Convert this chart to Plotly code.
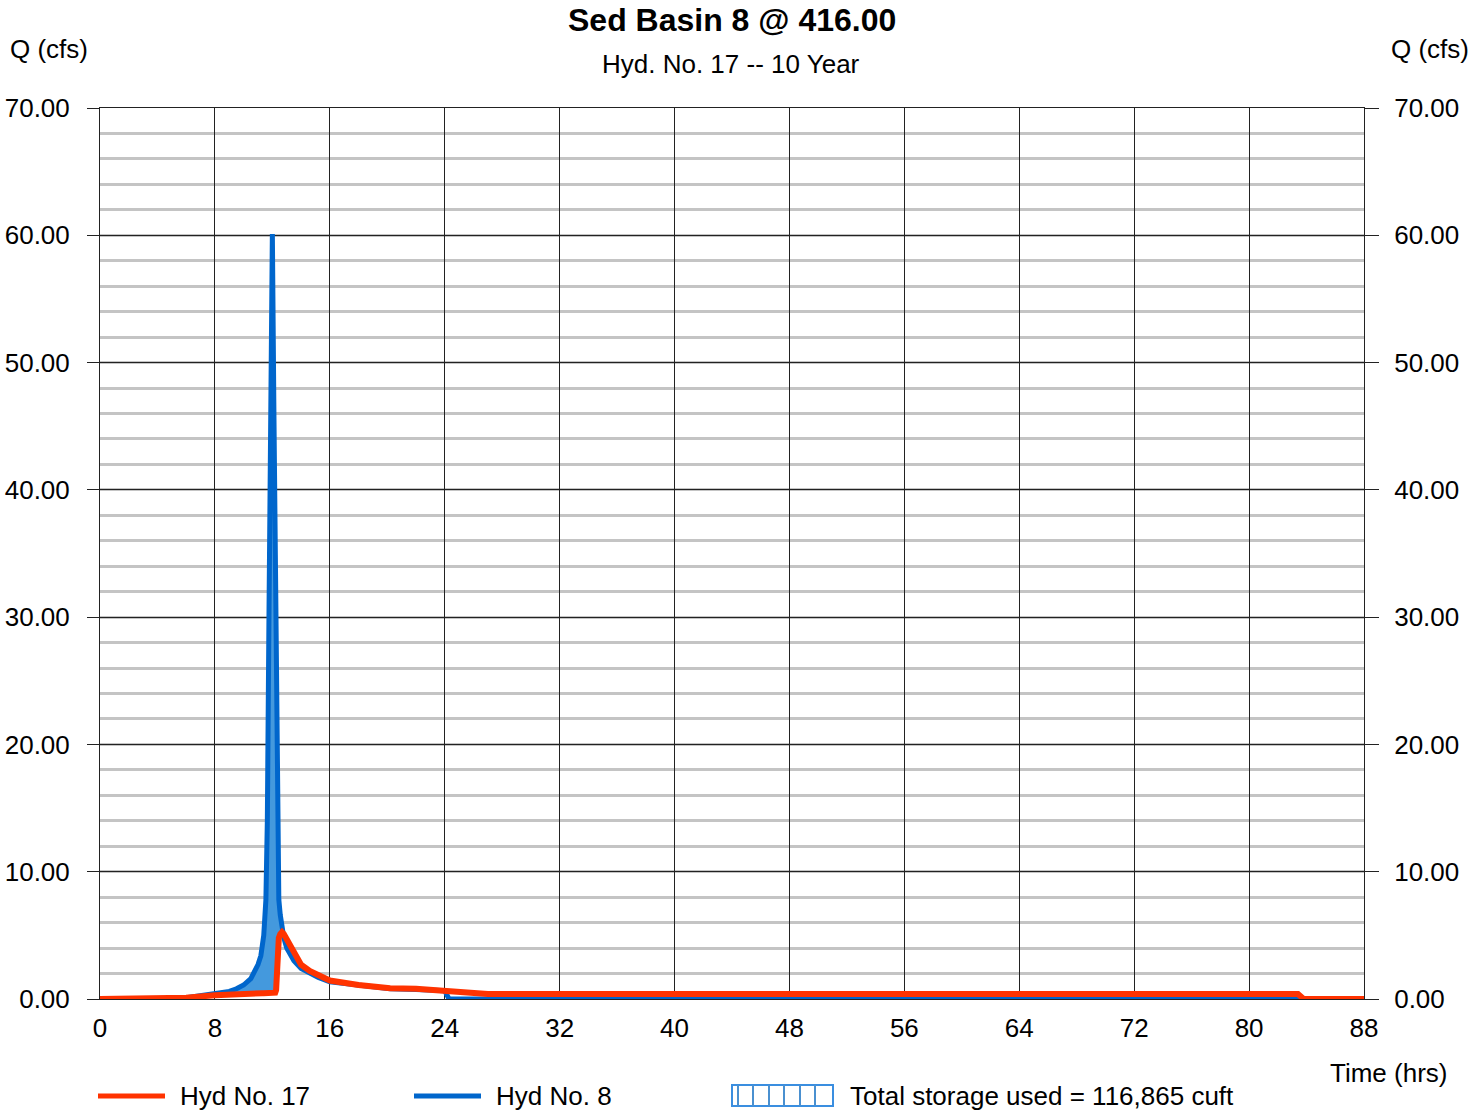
import plotly.graph_objects as go

# ---- data ----
time_hrs = [0, 4.5, 6, 8, 9.0, 9.5, 10.0, 10.5, 10.7, 11.0, 11.2, 11.3, 11.4, 11.55, 11.65,
            11.77, 11.9, 12.0, 12.1, 12.2, 12.26, 12.3, 12.35, 12.4, 12.45, 12.55,
            12.67, 12.8, 13.0, 13.5, 14.0, 14.6, 15.2, 16, 18, 20.2, 22, 24.0, 24.3, 25.8,
            27, 83.4, 83.8, 88]
hyd8_inflow = [0, 0, 0.1, 0.4, 0.6, 0.8, 1.1, 1.6, 2.0, 2.7, 3.4, 4.0, 5.0, 7.8, 14,
               31, 50, 60.1, 47, 36, 31, 22, 13, 9.5, 7.8, 6.6,
               5.6, 4.8, 4.0, 3.0, 2.4, 2.0, 1.7, 1.35, 1.05, 0.8, 0.75, 0.65, 0, 0,
               0, 0, 0, 0]
hyd17_outflow = [0, 0, 0.1, 0.3, 0.38, 0.4, 0.41, 0.42, 0.42, 0.43, 0.44, 0.45, 0.45, 0.45, 0.45,
                 0.45, 0.45, 0.45, 0.47, 0.5, 0.7, 2.2, 3.6, 4.6, 4.8, 5.1,
                 5.25, 5.1, 4.7, 3.6, 2.7, 2.2, 1.9, 1.45, 1.1, 0.85, 0.8, 0.7, 0.68, 0.5,
                 0.4, 0.4, 0, 0]
storage_upper = [max(a, b) for a, b in zip(hyd8_inflow, hyd17_outflow)]

x_ticks = list(range(0, 89, 8))
y_ticks = list(range(0, 71, 10))

title_text = "<b>Sed Basin 8 @ 416.00</b>"
subtitle_text = "Hyd. No. 17 -- 10 Year"
legend_red = "Hyd No. 17"
legend_blue = "Hyd No. 8"
legend_storage = "Total storage used = 116,865 cuft"

RED = "#ff3300"
BLUE = "#0066cc"
FILL = "#4499dd"
FONT = "Arial, Liberation Sans, sans-serif"

fig = go.Figure()
fig.add_trace(go.Scatter(x=time_hrs, y=hyd17_outflow, mode="lines",
                         line=dict(width=0, color=RED), showlegend=False,
                         hoverinfo="skip", yaxis="y"))
fig.add_trace(go.Scatter(x=time_hrs, y=storage_upper, mode="lines",
                         line=dict(width=0, color=FILL), fill="tonexty",
                         fillcolor=FILL, showlegend=False, yaxis="y"))
fig.add_trace(go.Scatter(x=time_hrs, y=hyd8_inflow, mode="lines",
                         line=dict(width=5, color=BLUE), name=legend_blue,
                         showlegend=False, yaxis="y2"))
fig.add_trace(go.Scatter(x=time_hrs, y=hyd17_outflow, mode="lines",
                         line=dict(width=6, color=RED), name=legend_red,
                         showlegend=False, yaxis="y2"))

GRID_DARK = "#222222"
axis_font = dict(family=FONT, size=26, color="black")

fig.update_layout(
    width=1473, height=1114,
    margin=dict(l=100, r=109, t=108, b=115, autoexpand=False),
    paper_bgcolor="white", plot_bgcolor="white",
    font=dict(family=FONT, size=26, color="black"),
    showlegend=False,
    xaxis=dict(range=[0, 88], tickvals=x_ticks, ticktext=[str(v) for v in x_ticks],
               showgrid=True, gridcolor=GRID_DARK, gridwidth=1, zeroline=False,
               showline=True, linecolor=GRID_DARK, linewidth=1, mirror=True,
               ticks="", tickfont=axis_font, ticklabelstandoff=6, automargin=False),
    yaxis=dict(range=[0, 70], tickvals=y_ticks, tickformat=".2f",
               showgrid=True, gridcolor=GRID_DARK, gridwidth=1, zeroline=False,
               minor=dict(dtick=2, showgrid=True, gridcolor="#c4c4c4", gridwidth=2.5),
               showline=True, linecolor=GRID_DARK, linewidth=1, mirror=True,
               ticks="outside", ticklen=12, tickcolor=GRID_DARK, tickwidth=1,
               tickfont=axis_font, ticklabelstandoff=12, automargin=False),
    yaxis2=dict(range=[0, 70], tickvals=y_ticks, tickformat=".2f", overlaying="y",
                side="right", showgrid=False, zeroline=False,
                ticks="outside", ticklen=14, tickcolor=GRID_DARK, tickwidth=1,
                tickfont=axis_font, ticklabelstandoff=10, automargin=False),
)

def px_x(p):
    return (p - 100) / 1264.0

def px_y(p):
    return (999 - p) / 891.0

annotations = [
    dict(text=title_text, x=px_x(732), y=px_y(20), font=dict(family=FONT, size=32)),
    dict(text=subtitle_text, x=px_x(731), y=px_y(64), font=dict(family=FONT, size=26)),
    dict(text="Q (cfs)", x=px_x(8), y=px_y(49), xanchor="left", font=dict(family=FONT, size=26)),
    dict(text="Q (cfs)", x=px_x(1471), y=px_y(49), xanchor="right", font=dict(family=FONT, size=26)),
    dict(text="Time (hrs)", x=px_x(1328), y=px_y(1073), xanchor="left", font=dict(family=FONT, size=26)),
    dict(text=legend_red, x=px_x(178), y=px_y(1096), xanchor="left", font=dict(family=FONT, size=26)),
    dict(text=legend_blue, x=px_x(494), y=px_y(1096), xanchor="left", font=dict(family=FONT, size=26)),
    dict(text=legend_storage, x=px_x(848), y=px_y(1096), xanchor="left", font=dict(family=FONT, size=26)),
]
for a in annotations:
    a.update(xref="paper", yref="paper", showarrow=False, yanchor="middle",
             xanchor=a.get("xanchor", "center"))
fig.update_layout(annotations=annotations)

shapes = [
    dict(type="line", x0=px_x(98), x1=px_x(165), y0=px_y(1096), y1=px_y(1096),
         line=dict(color=RED, width=5)),
    dict(type="line", x0=px_x(414), x1=px_x(481), y0=px_y(1096), y1=px_y(1096),
         line=dict(color=BLUE, width=5)),
    dict(type="rect", x0=px_x(732), x1=px_x(833), y0=px_y(1106), y1=px_y(1085),
         line=dict(color="#3a8ee0", width=2), fillcolor="rgba(0,0,0,0)"),
]
for p in [738, 753, 769, 784, 800, 815]:
    shapes.append(dict(type="line", x0=px_x(p), x1=px_x(p), y0=px_y(1106), y1=px_y(1085),
                       line=dict(color="#4a90d0", width=2)))
for s in shapes:
    s.update(xref="paper", yref="paper", layer="above")
fig.update_layout(shapes=shapes)

fig.write_html("out.html", config={"displayModeBar": False},
               post_script="document.body.style.margin='0';")
